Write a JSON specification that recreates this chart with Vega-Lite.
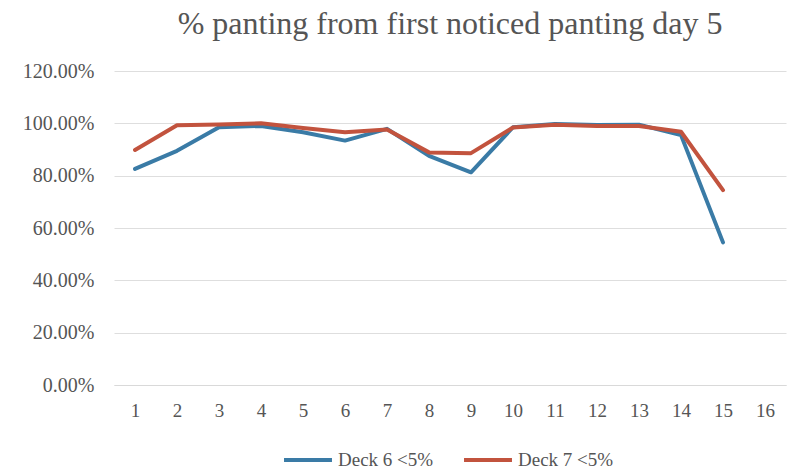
{
  "$schema": "https://vega.github.io/schema/vega-lite/v6.json",
  "width": 790,
  "height": 472,
  "autosize": {"type": "fit", "contains": "padding"},
  "background": "white",
  "padding": {"left": 22, "right": 4, "top": 8, "bottom": 2},
  "title": {
    "text": "% panting from first noticed panting day 5",
    "font": "serif",
    "fontSize": 32,
    "fontWeight": "normal",
    "color": "#555555",
    "offset": 20
  },
  "data": {
    "values": [
      {"day": 1, "series": "Deck 6 <5%", "v": 0.826},
      {"day": 2, "series": "Deck 6 <5%", "v": 0.895},
      {"day": 3, "series": "Deck 6 <5%", "v": 0.985},
      {"day": 4, "series": "Deck 6 <5%", "v": 0.99},
      {"day": 5, "series": "Deck 6 <5%", "v": 0.966},
      {"day": 6, "series": "Deck 6 <5%", "v": 0.934},
      {"day": 7, "series": "Deck 6 <5%", "v": 0.979},
      {"day": 8, "series": "Deck 6 <5%", "v": 0.876},
      {"day": 9, "series": "Deck 6 <5%", "v": 0.813},
      {"day": 10, "series": "Deck 6 <5%", "v": 0.985},
      {"day": 11, "series": "Deck 6 <5%", "v": 0.997},
      {"day": 12, "series": "Deck 6 <5%", "v": 0.994},
      {"day": 13, "series": "Deck 6 <5%", "v": 0.995},
      {"day": 14, "series": "Deck 6 <5%", "v": 0.955},
      {"day": 15, "series": "Deck 6 <5%", "v": 0.545},
      {"day": 1, "series": "Deck 7  <5%", "v": 0.898},
      {"day": 2, "series": "Deck 7  <5%", "v": 0.993},
      {"day": 3, "series": "Deck 7  <5%", "v": 0.996},
      {"day": 4, "series": "Deck 7  <5%", "v": 1.0},
      {"day": 5, "series": "Deck 7  <5%", "v": 0.982},
      {"day": 6, "series": "Deck 7  <5%", "v": 0.966},
      {"day": 7, "series": "Deck 7  <5%", "v": 0.976},
      {"day": 8, "series": "Deck 7  <5%", "v": 0.889},
      {"day": 9, "series": "Deck 7  <5%", "v": 0.886},
      {"day": 10, "series": "Deck 7  <5%", "v": 0.984},
      {"day": 11, "series": "Deck 7  <5%", "v": 0.995},
      {"day": 12, "series": "Deck 7  <5%", "v": 0.99},
      {"day": 13, "series": "Deck 7  <5%", "v": 0.99},
      {"day": 14, "series": "Deck 7  <5%", "v": 0.968},
      {"day": 15, "series": "Deck 7  <5%", "v": 0.745}
    ]
  },
  "mark": {"type": "line", "strokeWidth": 4, "strokeCap": "round", "strokeJoin": "round"},
  "encoding": {
    "x": {
      "field": "day",
      "type": "ordinal",
      "scale": {"domain": [1,2,3,4,5,6,7,8,9,10,11,12,13,14,15,16], "paddingOuter": 0.5},
      "axis": {
        "title": null,
        "labelAngle": 0,
        "labelFont": "serif",
        "labelFontSize": 19,
        "labelColor": "#555555",
        "labelPadding": 16,
        "ticks": false,
        "domainColor": "#d9d9d9",
        "grid": false
      }
    },
    "y": {
      "field": "v",
      "type": "quantitative",
      "scale": {"domain": [0, 1.2], "nice": false},
      "axis": {
        "title": null,
        "format": ".2%",
        "values": [0, 0.2, 0.4, 0.6, 0.8, 1.0, 1.2],
        "labelFont": "serif",
        "labelFontSize": 20,
        "labelColor": "#555555",
        "labelPadding": 20,
        "ticks": false,
        "domain": false,
        "gridColor": "#dedede",
        "gridWidth": 1
      }
    },
    "color": {
      "field": "series",
      "type": "nominal",
      "scale": {"domain": ["Deck 6 <5%", "Deck 7  <5%"], "range": ["#3a7ba6", "#c2533e"]},
      "legend": {
        "title": null,
        "orient": "bottom",
        "direction": "horizontal",
        "symbolType": "stroke",
        "symbolStrokeWidth": 4,
        "symbolSize": 2300,
        "labelFont": "serif",
        "labelFontSize": 19,
        "labelColor": "#555555",
        "columnPadding": 22,
        "offset": 14
      }
    }
  },
  "config": {
    "font": "serif",
    "view": {"stroke": null},
    "axis": {"labelFont": "serif"},
    "legend": {"labelFont": "serif", "layout": {"bottom": {"anchor": "middle"}}}
  }
}
